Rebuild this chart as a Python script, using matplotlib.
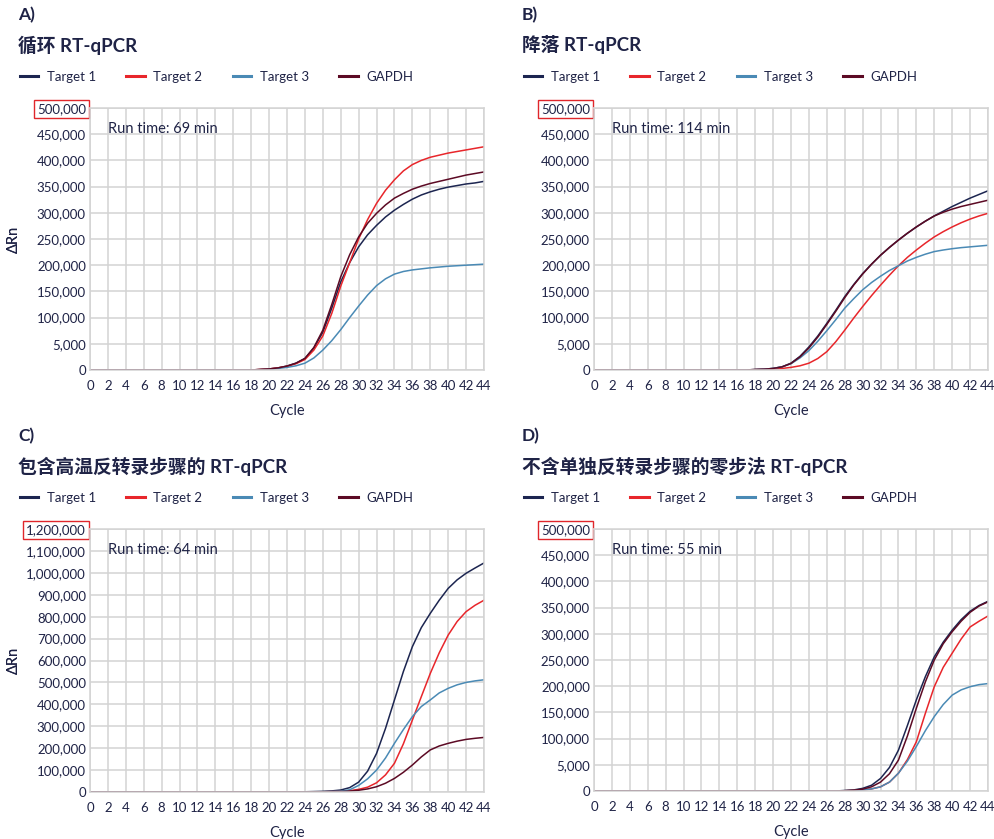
import numpy as np
import matplotlib.pyplot as plt

plt.rcParams['font.family'] = ['Lato', 'Noto Sans CJK SC', 'DejaVu Sans']

cycles = np.arange(0, 45)

# values in thousands of ΔRn, cycles 0..44
z = [0] * 19
a_t1 = z + [1, 2, 4, 7.5, 13, 22, 42, 72, 118, 168, 205, 235, 258, 276, 292, 305, 316, 326, 334, 340, 345, 349, 352, 355, 357, 360]
a_t2 = z + [1, 2, 4, 7, 12, 20, 38, 65, 108, 160, 205, 250, 287, 318, 343, 363, 380, 392, 400, 406, 410, 414, 417, 420, 423, 426]
a_t3 = z + [0.5, 1.5, 3, 5, 8, 13, 23, 38, 56, 77, 100, 122, 143, 161, 174, 183, 188, 191, 193, 195, 196.5, 198, 199, 200, 201, 202]
a_gapdh = z + [1, 2, 4, 7.5, 13, 22, 43, 76, 125, 178, 220, 254, 280, 299, 315, 328, 337, 345, 351, 356, 360, 364, 368, 372, 375, 378]

zb = [0] * 18
b_t1 = zb + [1, 1.5, 3, 6, 13, 26, 44, 65, 89, 114, 140, 163, 184, 202, 219, 234, 248, 261, 273, 284, 294, 303, 312, 320, 328, 335, 342]
b_t2 = zb + [0.5, 1, 2, 3, 5, 8, 13, 22, 35, 54, 76, 99, 121, 142, 162, 181, 199, 215, 229, 242, 254, 264, 273, 281, 288, 294, 299]
b_t3 = zb + [0.5, 1.5, 3, 6, 12, 23, 37, 55, 75, 96, 118, 136, 153, 167, 179, 190, 199, 208, 215, 221, 226, 229, 231.5, 233.5, 235, 236.5, 238]
b_gapdh = zb + [1, 1.5, 3, 6, 12.5, 25, 42, 63, 87, 112, 138, 162, 183, 202, 219, 234, 248, 261, 273, 284, 294, 301, 307, 312, 316, 320, 324]

zc = [0] * 24
c_t1 = zc + [1, 2, 3, 5, 9, 20, 45, 95, 176, 290, 420, 550, 663, 750, 815, 875, 929, 968, 998, 1022, 1045]
c_t2 = zc + [0.5, 0.5, 1, 2, 3, 6, 12, 22, 42, 78, 131, 220, 328, 435, 541, 635, 716, 778, 823, 852, 875]
c_t3 = zc + [0.5, 0.5, 1, 2, 4, 10, 30, 60, 100, 155, 222, 285, 344, 390, 420, 452, 473, 489, 500, 507, 512]
c_gapdh = zc + [0, 0.5, 0.5, 1, 2, 4, 8, 14, 24, 40, 62, 90, 123, 160, 192, 210, 222, 232, 240, 245, 249]

zd = [0] * 28
d_t1 = zd + [1, 2, 5, 11, 24, 45, 78, 125, 174, 218, 256, 284, 307, 327, 343, 354, 362]
d_t2 = zd + [0.5, 1, 2, 4, 8, 17, 34, 60, 94, 148, 199, 236, 263, 290, 313, 324, 334]
d_t3 = zd + [0.5, 1, 2, 4, 8, 17, 34, 57, 85, 115, 142, 165, 183, 193, 199, 203, 205]
d_gapdh = zd + [0.5, 1.5, 3.5, 8, 17, 33, 59, 105, 158, 208, 250, 281, 304, 324, 341, 353, 361]

series_names = ['Target 1', 'Target 2', 'Target 3', 'GAPDH']
colors = ['#1c2550', '#e8262b', '#4a8ab5', '#5c0a24']

ticks_500 = [0, 50000, 100000, 150000, 200000, 250000, 300000, 350000, 400000, 450000, 500000]
labels_500 = ['0', '5,000', '100,000', '150,000', '200,000', '250,000', '300,000',
              '350,000', '400,000', '450,000', '500,000']
ticks_1200 = list(range(0, 1200001, 100000))
labels_1200 = ['0', '100,000', '200,000', '300,000', '400,000', '500,000', '600,000',
               '700,000', '800,000', '900,000', '1,000,000', '1,100,000', '1,200,000']

panels = [
    ('A)', '循环 RT-qPCR', 'Run time: 69 min', [a_t1, a_t2, a_t3, a_gapdh], ticks_500, labels_500),
    ('B)', '降落 RT-qPCR', 'Run time: 114 min', [b_t1, b_t2, b_t3, b_gapdh], ticks_500, labels_500),
    ('C)', '包含高温反转录步骤的 RT-qPCR', 'Run time: 64 min', [c_t1, c_t2, c_t3, c_gapdh], ticks_1200, labels_1200),
    ('D)', '不含单独反转录步骤的零步法 RT-qPCR', 'Run time: 55 min', [d_t1, d_t2, d_t3, d_gapdh], ticks_500, labels_500),
]

txt = '#1f2346'
grid = '#d3d3d3'

fig = plt.figure(figsize=(9.95, 8.39), dpi=100)
W, H = 995.0, 839.0

# (axes left px, axes top px, axes bottom px, text left px, text top offset px)
boxes = [(90, 108, 370, 18, 0), (594, 108, 370, 522, 0),
         (90, 529, 792, 18, 421), (594, 529, 791, 522, 421)]

for (letter, title, runtime, data, yt, yl), (lx, ty, by, tx, off) in zip(panels, boxes):
    ax = fig.add_axes([lx / W, 1 - by / H, 394 / W, (by - ty) / H])
    for vals, name, c in zip(data, series_names, colors):
        ax.plot(cycles, np.array(vals) * 1000, color=c, lw=1.1, label=name)
    ax.set_xlim(0, 44)
    ax.set_ylim(0, yt[-1])
    ax.set_xticks(range(0, 45, 2))
    ax.set_yticks(yt, yl)
    ax.grid(True, color=grid, lw=1.1)
    ax.set_axisbelow(True)
    for s in ax.spines.values():
        s.set_color(grid)
        s.set_linewidth(1.1)
    ax.tick_params(length=0, labelsize=9.5, labelcolor=txt)
    ax.tick_params(axis='y', pad=3)
    ax.tick_params(axis='x', pad=7)
    ax.set_xlabel('Cycle', fontsize=10.5, color=txt, labelpad=9)
    ax.set_ylabel('ΔRn', fontsize=10.5, color=txt)
    ax.yaxis.set_label_coords((21 - lx) / 394, 0.5)
    ax.get_yticklabels()[-1].set_bbox(dict(boxstyle='square,pad=0.25', fc='none', ec='#e0262b', lw=1))
    ax.text(0.046, 0.92, runtime, transform=ax.transAxes, fontsize=10.5, color=txt, va='center')

    fig.text(tx / W, 1 - (15 + off) / H, letter, fontsize=12.5, fontweight='bold', color=txt, va='center')
    fig.text(tx / W, 1 - (45 + off) / H, title, fontsize=13.5, fontweight='bold', color=txt, va='center')
    ax.legend(loc='center left', bbox_to_anchor=((tx - 10) / W, 1 - (77 + off) / H),
              bbox_transform=fig.transFigure, ncol=4, frameon=False, fontsize=9.5,
              labelcolor=txt, handlelength=1.4, handletextpad=0.65, columnspacing=2.3)
    for line in ax.get_legend().get_lines():
        line.set_linewidth(2.2)

fig.savefig('out.png', dpi=100)
